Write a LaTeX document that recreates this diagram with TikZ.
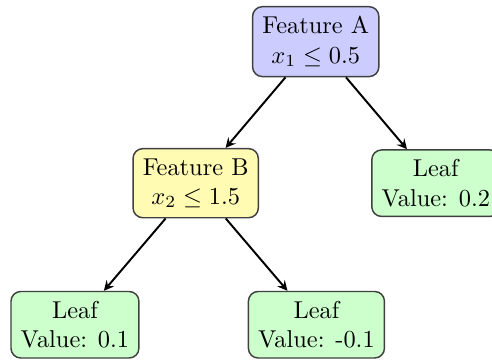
\documentclass[tikz,border=0pt]{standalone}
\usepackage{amsmath, amssymb}
\usepackage{tikz}
\usetikzlibrary{shapes,arrows,positioning,calc}

\begin{document}
\begin{tikzpicture}[
    box/.style={draw=black!75, semithick, rounded corners=4pt, align=center, inner xsep=4pt, inner ysep=4pt},
    split/.style={box, fill=blue!20},
    splitb/.style={box, fill=yellow!30},
    leaf/.style={box, fill=green!20},
    link/.style={thick, ->, >=stealth}
]
\useasboundingbox (0,0) rectangle (7.09,5.23);
\node[split] (fa) at (4.55,4.63) {Feature A\\$x_1 \leq 0.5$};
\node[splitb] (fb) at (2.82,2.59) {Feature B\\$x_2 \leq 1.5$};
\node[leaf] (l3) at (6.28,2.59) {Leaf\\Value: 0.2};
\node[leaf] (l1) at (1.08,0.55) {Leaf\\Value: 0.1};
\node[leaf] (l2) at (4.56,0.55) {Leaf\\Value: -0.1};
\draw[link] (fa) -- (fb);
\draw[link] (fa) -- (l3);
\draw[link] (fb) -- (l1);
\draw[link] (fb) -- (l2);
\end{tikzpicture}
\end{document}
